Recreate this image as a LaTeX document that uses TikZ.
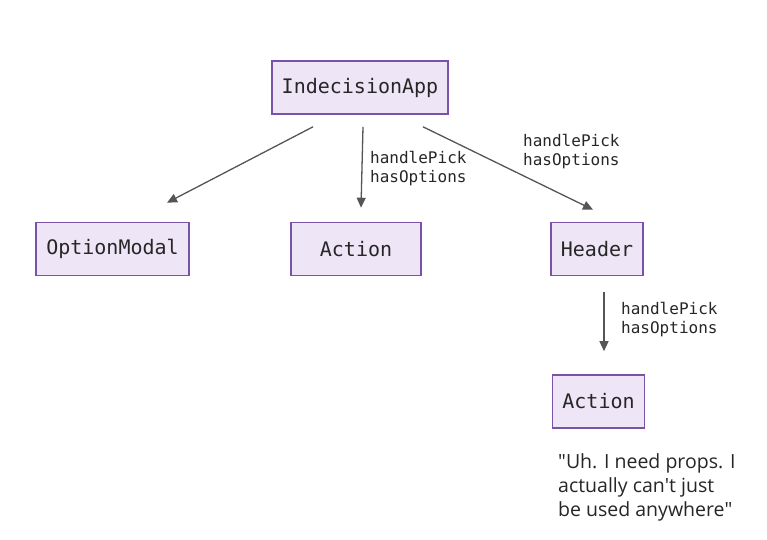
\documentclass[tikz,border=0pt]{standalone}
\usepackage{fontspec}
\setmainfont{Open Sans}
\setmonofont{DejaVu Sans Mono}
\usepackage{xcolor}
\usetikzlibrary{arrows.meta, positioning}
\definecolor{boxline}{HTML}{7A52A6}
\definecolor{boxfill}{HTML}{EEE6F6}
\definecolor{arrowgray}{HTML}{555555}
\tikzset{
  comp/.style={rectangle, draw=boxline, fill=boxfill, line width=1.6pt,
               minimum height=53pt, inner xsep=10pt,
               font=\fontsize{20pt}{24pt}\ttfamily, text=black!85},
  arrow/.style={-{Triangle[length=10pt, width=9pt]}, draw=arrowgray, line width=1.3pt},
  proplabel/.style={font=\fontsize{16pt}{19pt}\ttfamily, text=black!85,
                    align=left, inner sep=0pt, anchor=west},
  note/.style={font=\fontsize{19.5pt}{24pt}\selectfont, text=black!85,
               align=left, inner sep=0pt, anchor=north west},
}
\begin{document}
\begin{tikzpicture}[x=1pt, y=-1pt]
  \useasboundingbox (0,0) rectangle (767,539);

  % Root
  \node[comp] (app) at (360,87.5) {IndecisionApp};

  % Children
  \node[comp] (modal) at (112.5,249) {OptionModal};
  \node[comp, minimum width=130pt] (action) at (356,249) {Action};
  \node[comp] (header) at (597,249) {Header};

  % Grandchild
  \node[comp] (subaction) at (598.5,401.5) {Action};

  % Prop labels
  \node[proplabel] (propsA) at (370,169) {handlePick\\hasOptions};
  \node[proplabel] (propsH) at (523,152) {handlePick\\hasOptions};
  \node[proplabel] (propsS) at (621,320) {handlePick\\hasOptions};

  % Note
  \node[note] (quote) at (558,453) {\textquotedbl Uh. I need props. I\\actually can\textquotesingle t just\\be used anywhere\textquotedbl};

  % Edges
  \draw[arrow] ([xshift=-47pt, yshift=-12pt]app.south) -- ([xshift=54.5pt, yshift=19pt]modal.north);
  \draw[arrow] ([xshift=3pt, yshift=-12pt]app.south) -- ([xshift=5pt, yshift=14pt]action.north);
  \draw[arrow] ([xshift=63pt, yshift=-12pt]app.south) -- ([xshift=-4pt, yshift=12pt]header.north);
  \draw[arrow] ([xshift=7pt, yshift=-16pt]header.south) -- ([xshift=5.5pt, yshift=23pt]subaction.north);

\end{tikzpicture}
\end{document}
